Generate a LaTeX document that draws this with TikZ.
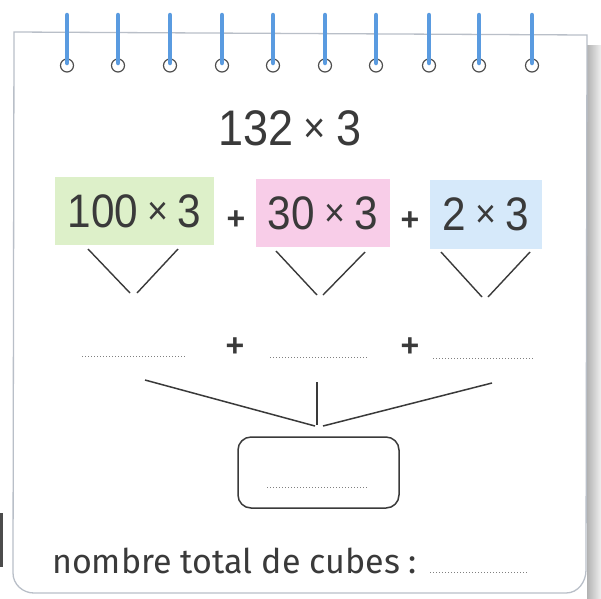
\documentclass[tikz,border=0pt]{standalone}
\usepackage{fontspec}
\setmainfont{Liberation Sans}
\newfontfamily\numfont[FakeStretch=0.9]{Liberation Sans}
\newfontfamily\lowfont{Fira Sans}
\usetikzlibrary{calc}
\definecolor{ink}{HTML}{3A3A3A}
\definecolor{spiral}{HTML}{5A9BE0}
\definecolor{pagegrey}{HTML}{B9BFC8}
\definecolor{greenbox}{HTML}{DDF0C9}
\definecolor{pinkbox}{HTML}{F8CDE8}
\definecolor{bluebox}{HTML}{D6E9FA}
\newcommand{\tm}{\hspace{0.2em}\raisebox{0.06em}{\scalebox{0.85}{×}}\hspace{0.2em}}
\tikzset{
  prodbox/.style={inner sep=0pt, text=ink, font=\numfont\fontsize{47}{50}\selectfont},
  plussign/.style={inner sep=0pt, text=ink, font=\bfseries\fontsize{32}{34}\selectfont},
  arm/.style={draw=ink, line width=1.4pt},
  joinline/.style={draw=ink, line width=1.5pt},
  blank/.style={draw=gray, line width=0.9pt, dash pattern=on 0.9pt off 2.1pt},
  ring/.style={draw=ink!90, line width=1.2pt, fill=white},
  wire/.style={draw=spiral, line width=4.5pt, line cap=round},
}
\begin{document}
\begin{tikzpicture}[x=1pt,y=-1pt]
\useasboundingbox (0,0) rectangle (601,598);
\fill[white] (0,0) rectangle (601,598);
% shadow at right side
\shade[left color=black!30, right color=black!6] (587,45) rectangle (601,598);
\fill[black!70] (0,513) rectangle (3,567);
% page
\draw[pagegrey, line width=1.3pt, fill=white]
  (14,32) -- (587,35) -- (586,570) to[out=-90,in=0] (566,593) -- (34,593) to[out=180,in=-90] (13,573) -- cycle;
% spiral rings
\foreach \x in {67,118,170,222,273,325,376,429,479,532}{
  \draw[ring] (\x,65.5) circle (6.5);
  \draw[wire] (\x,15) -- (\x,63);
}
% title
\node[prodbox, anchor=base, font=\numfont\fontsize{50}{52}\selectfont] (title) at (290,145) {132\tm 3};
% product boxes
\node[prodbox, fill=greenbox, minimum width=159pt, minimum height=68pt] (g) at (134.5,211) {100\tm 3};
\node[prodbox, fill=pinkbox, minimum width=134pt, minimum height=68pt] (p) at (323,213) {30\tm 3};
\node[prodbox, fill=bluebox, minimum width=112pt, minimum height=69pt] (b) at (486,214.5) {2\tm 3};
\node[plussign] (plus1) at (236,220) {+};
\node[plussign] (plus2) at (410,221) {+};
% V arms
\coordinate (g1) at (88,249); \coordinate (g2) at (130,293);
\coordinate (g3) at (178,249); \coordinate (g4) at (137,293);
\coordinate (p1) at (276,251); \coordinate (p2) at (317,295);
\coordinate (p3) at (365,252); \coordinate (p4) at (323,295);
\coordinate (b1) at (441,252); \coordinate (b2) at (482,297);
\coordinate (b3) at (530,252); \coordinate (b4) at (488,297);
\draw[arm] (g1) -- (g2); \draw[arm] (g3) -- (g4);
\draw[arm] (p1) -- (p2); \draw[arm] (p3) -- (p4);
\draw[arm] (b1) -- (b2); \draw[arm] (b3) -- (b4);
% answer row
\coordinate (d1a) at (82,356); \coordinate (d1b) at (185,356);
\coordinate (d2a) at (270,357); \coordinate (d2b) at (368,357);
\coordinate (d3a) at (433,358); \coordinate (d3b) at (533,358);
\draw[blank] (d1a) -- (d1b);
\draw[blank] (d2a) -- (d2b);
\draw[blank] (d3a) -- (d3b);
\node[plussign] (plus3) at (235,347) {+};
\node[plussign] (plus4) at (410,347) {+};
% joining lines
\coordinate (l1) at (145,380); \coordinate (l2) at (315,426);
\coordinate (m1) at (317,382); \coordinate (m2) at (317,425);
\coordinate (r1) at (492,383); \coordinate (r2) at (323,426);
\draw[joinline] (l1) -- (l2);
\draw[joinline, line width=1.3pt] (m1) -- (m2);
\draw[joinline] (r1) -- (r2);
% result box
\node[draw=ink, line width=1.5pt, rounded corners=13pt, minimum width=161pt, minimum height=71pt] (res) at (318.5,472.5) {};
\coordinate (rd1) at (267,487); \coordinate (rd2) at (367,487);
\draw[blank] (rd1) -- (rd2);
% bottom text
\node[anchor=base west, inner sep=0pt, text=ink, font=\lowfont\fontsize{34}{36}\selectfont] (total) at (52,573) {nombre total de cubes :};
\coordinate (td1) at (430,572); \coordinate (td2) at (527,572);
\draw[blank] (td1) -- (td2);
\end{tikzpicture}
\end{document}
